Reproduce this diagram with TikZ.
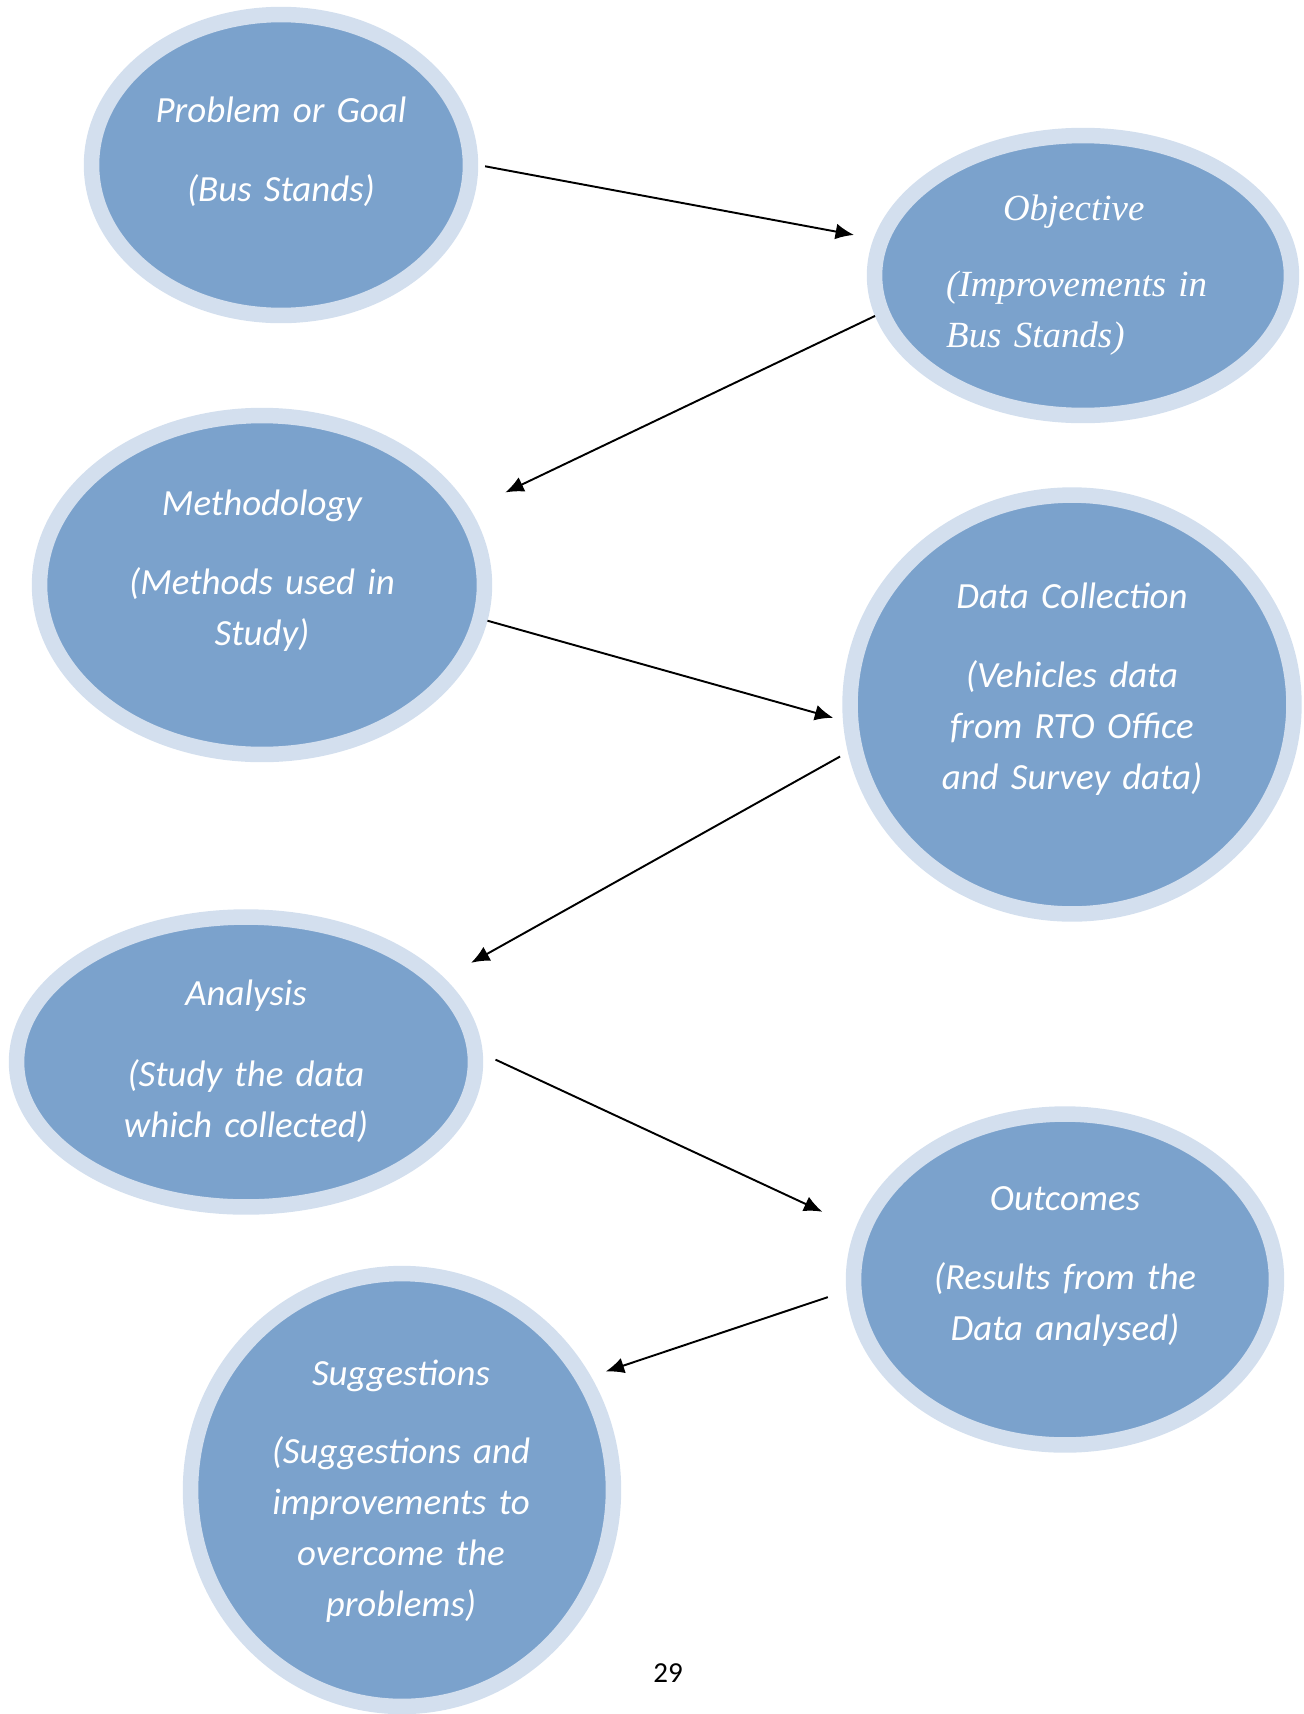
\documentclass[tikz,border=0pt]{standalone}
\usepackage{fontspec}
\setmainfont{Carlito}
\newfontfamily\timesfont{Liberation Serif}
\usetikzlibrary{shapes.geometric,arrows.meta}
\definecolor{bub}{RGB}{123,162,204}
\definecolor{ring}{RGB}{211,223,238}

\begin{document}
\begin{tikzpicture}[
            x=0.02cm, y=-0.02cm,
            bubble/.style={ellipse,draw=ring,fill=bub,line width=0.31cm,inner sep=0pt},
            bubtext/.style={anchor=base,text=white,text width=9cm,align=center,
                font=\fontsize{21}{29}\selectfont\itshape},
            flow/.style={-{Latex[length=10.5pt,width=9pt]},line width=1.1pt}
        ]
            \useasboundingbox (0,0) rectangle (1303,1714);

            % bubbles
            \node [bubble,minimum width=7.58cm,minimum height=6.02cm] (goal) at (281,165) {};
            \node [bubble,minimum width=8.34cm,minimum height=5.60cm] (obj) at (1083,275.5) {};
            \node [bubble,minimum width=8.90cm,minimum height=6.78cm] (meth) at (262,585) {};
            \node [bubble,minimum width=8.88cm,minimum height=8.38cm] (data) at (1072,704.5) {};
            \node [bubble,minimum width=9.18cm,minimum height=5.80cm] (anal) at (246,1062) {};
            \node [bubble,minimum width=8.46cm,minimum height=6.62cm] (out) at (1065,1279.5) {};
            \node [bubble,minimum width=8.46cm,minimum height=8.66cm] (sugg) at (402,1490) {};

            % texts
            \node [bubtext] (goal-t) at (281,122) {Problem or Goal\\[16pt](Bus Stands)};
            \node [bubtext,anchor=base west,text width=6cm,align=left,
                font=\fontsize{21}{29}\selectfont\timesfont\itshape] (obj-t) at (940,220)
                {\makebox[5.1cm]{Objective}\\[14.8pt](Improvements in\\Bus Stands)};
            \node [bubtext] (meth-t) at (262,515) {Methodology\\[16.5pt](Methods used in\\Study)};
            \node [bubtext] (data-t) at (1072,608)
                {Data Collection\\[16.5pt](Vehicles data\\from RTO Office\\and Survey data)};
            \node [bubtext] (anal-t) at (246,1005) {Analysis\\[17.5pt](Study the data\\which collected)};
            \node [bubtext] (out-t) at (1065,1210) {Outcomes\\[16.5pt](Results from the\\Data analysed)};
            \node [bubtext] (sugg-t) at (401,1385)
                {Suggestions\\[15.5pt](Suggestions and\\improvements to\\overcome the\\problems)};

            % arrows
            \draw [flow,shorten <=0.14cm,shorten >=0.4cm] (goal.east) -- (obj.170);
            \draw [flow,shorten >=0.78cm] (obj.191) -- (meth.20);
            \draw [flow,shorten >=0.2cm] (meth.-9.5) -- (data.184);
            \draw [flow,shorten <=0.18cm,shorten >=0.62cm] (data.192) -- (anal.23);
            \draw [flow,shorten <=0.28cm,shorten >=0.74cm] (anal.2) -- (out.166);
            \draw [flow,shorten <=0.39cm,shorten >=0.31cm] (out.183.5) -- (sugg.31);

            \node [anchor=base,font=\fontsize{16.5}{20}\selectfont] (page) at (668,1682) {29};
        \end{tikzpicture}
\end{document}
